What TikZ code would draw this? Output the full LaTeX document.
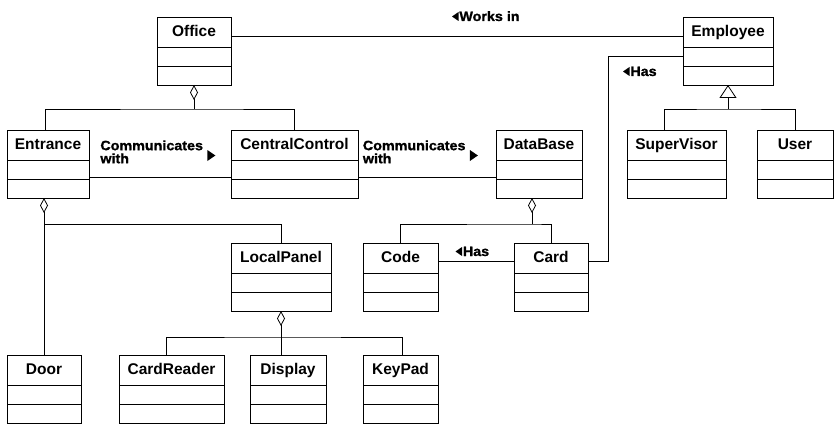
\documentclass[tikz,border=0pt]{standalone}
\usepackage{fontspec}
\setmainfont{Liberation Sans}
\newfontfamily\labelfont[FakeStretch=1.06,FakeBold=1.2]{Liberation Sans}
\usetikzlibrary{calc,positioning,arrows.meta}

% kelas UML: nama node, pojok kiri atas, lebar, judul
\newcommand{\kelas}[4]
	{
	\node[kotak, minimum width=#3pt] (#1) at (#2) {};
	\node[judul] at ($(#1.north)+(0,-19.5)$) {#4};
	\draw ($(#1.north west)+(0,-30)$) -- ($(#1.north east)+(0,-30)$);
	\draw ($(#1.north west)+(0,-49)$) -- ($(#1.north east)+(0,-49)$);
	}
% segitiga arah baca asosiasi
\newcommand{\panahkanan}[1]{\fill (#1) -- ++(0,5.5) -- ++(8,-5.5) -- ++(-8,-5.5) -- cycle;}
\newcommand{\panahkiri}[1]{\fill (#1) -- ++(6.5,4.5) -- ++(0,-9) -- cycle;}

\tikzset{
	kotak/.style={draw, anchor=north west, minimum height=68pt, inner sep=0pt, outer sep=0pt},
	judul/.style={font=\bfseries\fontsize{15.5}{18}\selectfont, inner sep=0pt, anchor=base},
	teks/.style={font=\labelfont\bfseries\fontsize{13.5}{13}\selectfont, inner sep=0pt, align=left},
	agregasi/.style={-{Diamond[open,length=15pt,width=8pt]}},
	turunan/.style={-{Triangle[open,length=13pt,width=17pt]}}
}

\begin{document}
\begin{tikzpicture}[x=1pt,y=1pt,line width=0.8pt]
\useasboundingbox (0,0) rectangle (835,-425);

% kelas-kelas
\kelas{office}{157,-17}{74}{Office}
\kelas{employee}{683,-17}{90}{Employee}
\kelas{entrance}{7,-130}{82}{Entrance}
\kelas{central}{231,-130}{127}{CentralControl}
\kelas{database}{496,-130}{86}{DataBase}
\kelas{supervisor}{627,-130}{99}{SuperVisor}
\kelas{user}{757,-130}{76}{User}
\kelas{localpanel}{231,-243}{100}{LocalPanel}
\kelas{code}{363,-243}{75}{Code}
\kelas{card}{514,-243}{74}{Card}
\kelas{door}{7,-355}{74}{Door}
\kelas{cardreader}{119,-355}{105}{CardReader}
\kelas{display}{250,-355}{76}{Display}
\kelas{keypad}{363,-355}{75}{KeyPad}

% agregasi
\coordinate (jOffice) at ($(office.south)+(0,-24)$);
\draw[agregasi] (jOffice) -- (office.south);
\draw ([xshift=-3pt]entrance.north) |- (jOffice) -| (central.north);

\draw[agregasi] (door.north) -- (door.north |- entrance.south);
\coordinate (jEntrance) at ($(door.north |- entrance.south)+(0,-26)$);
\draw (jEntrance) -| (localpanel.north);

\coordinate (jPanel) at ($(localpanel.south)+(0,-26)$);
\draw[agregasi] (jPanel) -- (localpanel.south);
\draw ([xshift=-5pt]cardreader.north) |- (jPanel) -| ([xshift=2pt]keypad.north);
\draw (jPanel) -- (jPanel |- display.north);

\coordinate (jData) at ($(database.south)+(-7,-26)$);
\draw[agregasi] (jData) -- (jData |- database.south);
\draw (code.north) |- (jData) -| (card.north);

% generalisasi
\coordinate (jEmployee) at ($(employee.south)+(0,-24)$);
\draw[turunan] (jEmployee) -- (employee.south);
\draw ([xshift=-12pt]supervisor.north) |- (jEmployee) -| (user.north);

% asosiasi
\draw ($(office.north east)+(0,-19)$) -- ($(employee.north west)+(0,-19)$);
\draw ($(entrance.north east)+(0,-47)$) -- ($(central.north west)+(0,-47)$);
\draw ($(central.north east)+(0,-47)$) -- ($(database.north west)+(0,-47)$);
\draw ($(code.north east)+(0,-18)$) -- ($(card.north west)+(0,-18)$);
\draw ($(employee.north west)+(0,-39)$) -| ($(card.north east)+(20,-18)$) -- ($(card.north east)+(0,-18)$);

% label asosiasi
\node[teks, anchor=north west] (lblKom1) at (100,-140) {Communicates\\with};
\panahkanan{$(lblKom1.north east)+(4,-15.5)$}
\node[teks, anchor=north west] (lblKom2) at (362.5,-140) {Communicates\\with};
\panahkanan{$(lblKom2.north east)+(4,-15.5)$}
\node[teks, anchor=base west] (lblKerja) at (459,-21) {Works in};
\panahkiri{$(lblKerja.base west)+(-7,4.5)$}
\node[teks, anchor=base west] (lblPunya1) at (630,-76) {Has};
\panahkiri{$(lblPunya1.base west)+(-7,4.5)$}
\node[teks, anchor=base west] (lblPunya2) at (462.5,-256) {Has};
\panahkiri{$(lblPunya2.base west)+(-7,4.5)$}

\end{tikzpicture}
\end{document}
